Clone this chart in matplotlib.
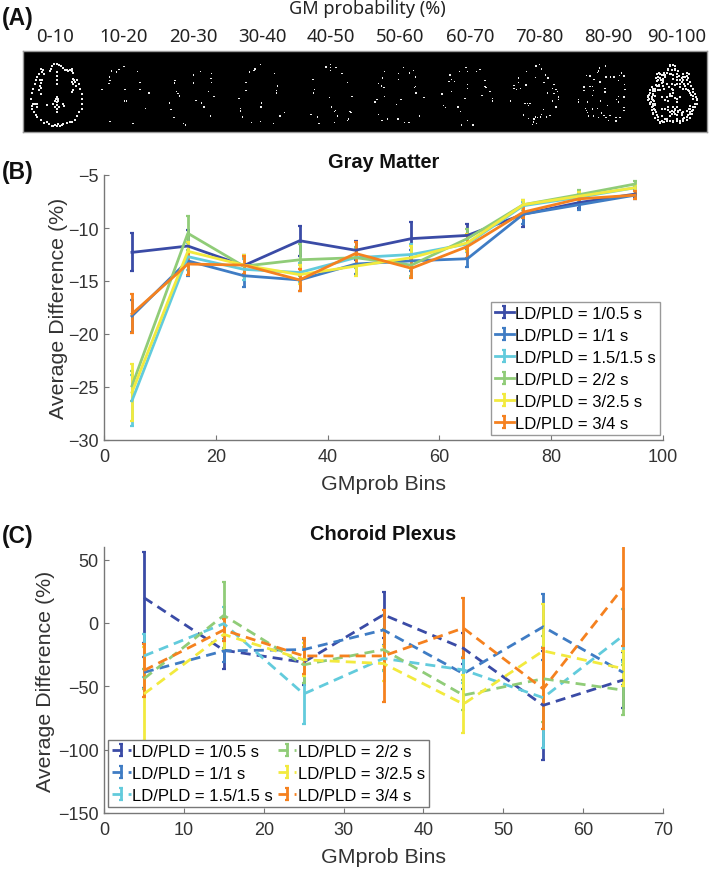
import numpy as np
import matplotlib
matplotlib.use("Agg")
import matplotlib.pyplot as plt
from matplotlib.container import ErrorbarContainer
from matplotlib.legend_handler import HandlerErrorbar

W, H = 709, 870
plt.rcParams['font.family'] = ['Liberation Sans', 'DejaVu Sans']
plt.rcParams['lines.dashed_pattern'] = [3.6, 2.2]

labels = ["LD/PLD = 1/0.5 s", "LD/PLD = 1/1 s", "LD/PLD = 1.5/1.5 s",
          "LD/PLD = 2/2 s", "LD/PLD = 3/2.5 s", "LD/PLD = 3/4 s"]
colors = ["#3A4BA6", "#3F7CC4", "#62CBDC", "#90CC78", "#F2EA3E", "#F5811F"]

gm_x = [5, 15, 25, 35, 45, 55, 65, 75, 85, 95]
gm_1 = [-12.3, -11.7, -13.55, -11.2, -12.1, -11.0, -10.7, -8.7, -7.6, -6.8]
gm_2 = [-18.3, -13.1, -14.5, -14.9, -13.4, -13.1, -12.9, -8.7, -7.8, -6.9]
gm_3 = [-26.3, -12.7, -13.9, -14.2, -12.8, -12.5, -11.5, -7.9, -7.1, -6.2]
gm_4 = [-24.9, -10.5, -13.6, -13.0, -12.8, -13.5, -11.0, -7.8, -6.85, -5.85]
gm_5 = [-25.5, -12.2, -13.5, -14.4, -13.6, -12.8, -11.4, -7.8, -7.0, -6.2]
gm_6 = [-18.1, -13.4, -13.5, -14.9, -12.4, -13.8, -11.75, -8.5, -7.25, -6.9]
gm_e1 = [1.8, 1.5, 1.0, 1.4, 0.9, 1.6, 1.05, 1.2, 0.5, 0.4]
gm_e2 = [1.5, 1.4, 1.05, 1.0, 0.95, 1.0, 0.8, 0.9, 0.5, 0.4]
gm_e3 = [2.4, 1.3, 1.0, 0.9, 0.9, 1.0, 0.8, 0.4, 0.4, 0.3]
gm_e4 = [1.4, 1.6, 0.9, 1.5, 1.0, 1.0, 0.9, 0.4, 0.4, 0.3]
gm_e5 = [2.7, 0.9, 1.0, 0.9, 0.95, 1.1, 0.8, 0.4, 0.4, 0.3]
gm_e6 = [1.85, 1.0, 0.85, 1.0, 1.1, 0.9, 1.1, 0.55, 0.4, 0.4]

cp_x = [5, 15, 25, 35, 45, 55, 65]
cp_1 = [20, -21.5, -31, 6.5, -20, -65, -45]
cp_2 = [-39, -22, -21, -5.5, -40, -3, -39]
cp_3 = [-26, -0.5, -56, -28, -37, -59, -10]
cp_4 = [-44, 6, -33, -21, -57, -44, -53]
cp_5 = [-56, -9, -29, -32, -64, -22, -36]
cp_6 = [-37.5, -5.5, -26, -26, -4, -52, 28]
cp_e1 = [36, 15, 18, 18, 12, 43, 22]
cp_e2 = [12, 9, 8, 12, 12, 26, 10]
cp_e3 = [17, 13, 24, 10, 10, 40, 21]
cp_e4 = [8, 26, 14, 16, 12, 34, 20]
cp_e5 = [37, 12, 13, 14, 23, 37, 14]
cp_e6 = [21, 9, 14, 36, 24, 32, 46]

bin_labels = ["0-10", "10-20", "20-30", "30-40", "40-50", "50-60", "60-70", "70-80", "80-90", "90-100"]
bin_label_x = [55, 124, 193, 262, 331, 400, 470, 539, 608, 677]

# bright voxels in the probability maps (crop px)
vox_a = [(110,50),(103,52),(97,58),(93,65),(90,72),(118,54),(124,58),(130,63),(135,70),(62,66),(68,68),(65,75),(72,80),(58,82),(150,68),(155,72),(145,72),(157,65),(140,70),(160,78),(52,90),(48,100),(44,112),(40,125),(37,138),(34,155),(172,100),(176,112),(181,125),(185,140),(187,155),(187,172),(186,185),(110,75),(110,88),(110,100),(110,112),(60,100),(65,100),(62,108),(60,118),(57,128),(63,122),(63,142),(158,95),(162,100),(165,105),(155,105),(158,112),(168,118),(160,128),(155,135),(110,150),(107,157),(113,157),(105,162),(110,165),(115,162),(110,175),(110,185),(110,195),(106,180),(116,180),(100,172),(128,172),(133,176),(82,175),(38,172),(35,178),(45,170),(52,172),(37,185),(42,195),(48,205),(178,195),(172,208),(165,218),(155,225),(62,220),(72,228),(80,225),(88,230),(95,236),(100,236),(105,235),(110,238),(115,232),(120,236),(125,234),(130,230),(140,228),(150,226),(50,180),(50,210),
 (312,58),(297,67),(290,75),(275,72),(352,73),(268,90),(270,100),(267,110),(360,107),(246,128),(315,128),(360,128),(387,138),(314,162),(319,162),(377,185),(270,224),(339,230),
 (465,100),(463,108),(470,133),(474,140),(478,147),(449,168),(453,188),(462,212),(490,230),(497,234),(521,84),(521,108),(541,73),(575,80),(573,95),(575,107),(565,133),(582,148),(528,160),(545,168),(552,180),(572,207),
 (688,75),(678,107),(678,130),(657,155),(661,185),(661,192),(668,210)]
vox_b = [(32,52),(15,66),(12,70),(73,80),(83,117),(80,130),(80,138),(34,168),(33,180),(104,196),(90,207),(5,227),(32,224),(70,230),
 (241,52),(242,62),(242,70),(228,60),(258,62),(276,80),(189,98),(293,107),(194,128),(190,138),(238,152),(306,148),(245,180),(257,190),(254,193),(300,193),(303,197),(183,203),(262,207),(203,210),(296,216),(293,220),(207,230),(254,227),
 (403,73),(398,93),(385,110),(395,117),(402,122),(403,148),(381,158),(375,165),(385,203),(396,220),(412,216),(461,62),(446,80),(478,76),(478,80),(491,70),(497,90),(446,97),(497,118),(494,122),(498,138),(522,152),(453,158),(440,172),(508,207),(444,216),(464,227),(477,227),
 (648,62),(628,73),(652,73),(680,73),(600,84),(604,97),(597,104),(614,104),(652,113),(652,124),(604,134),(576,141),(645,155),(580,175),(587,182),(624,180),(632,193),(652,221),(635,234),(669,234)]
vox_c = [(0,68),(15,100),(15,118),(18,122),(30,134),(6,145),(37,155),(37,162),(92,162),
 (168,57),(178,53),(185,66),(140,73),(115,93),(167,92),(197,84),(204,93),(115,107),(102,115),(102,125),(110,127),(122,125),(138,114),(192,107),(222,112),(218,125),(228,128),(233,133),(203,138),(222,140),(236,150),(236,157),(218,162),(228,180),(135,170),(142,170),(146,176),(150,170),(191,188),(130,204),(146,214),(162,216),(167,210),(172,212),(182,210),(185,202),(200,210),(210,206),(160,225),(158,233),(170,230),
 (377,57),(358,63),(355,72),(352,76),(320,86),(330,87),(378,90),(392,90),(402,90),(418,85),(425,78),(432,87),(342,98),(360,105),(415,100),(312,120),(330,118),(338,118),(340,130),(375,125),(375,135),(433,112),(435,128),(312,130),(338,145),(432,150),(415,148),(410,158),(296,158),(296,165),(322,165),(362,162),(415,165),(382,175),(316,184),(320,190),(338,186),(352,184),(432,182),(432,190),(365,198),(322,197),(325,207),(340,207),(355,212),(372,205),(378,212),(390,205),(408,212),(420,212),(408,222),(385,220),
 (570,55),(578,53),(586,56),(565,66),(575,70),(585,68),(595,72),(562,78),(572,80),(590,82),(555,85),(530,82),(538,78),(545,85),(552,78),(528,92),(540,92),(548,95),(535,100),(550,100),(545,108),(538,115),(530,118),(548,118),(520,125),(510,130),(525,132),(540,128),(508,145),(518,140),(503,150),(515,150),(525,148),(610,82),(620,78),(628,80),(605,92),(615,90),(625,92),(600,100),(610,100),(620,100),(590,100),(578,95),(600,110),(612,112),(625,110),(632,118),(640,125),(618,125),(610,125),(628,132),(638,135),(645,142),(632,145),(648,150),(640,155),(650,160),(575,110),(585,115),(568,120),(580,128),(570,140),(562,150),(575,148),(585,152),(555,160),(565,162),(590,165),(505,160),(512,165),(520,160),(510,172),(518,178),(525,172),(515,188),(525,190),(520,200),(530,205),(525,212),(535,218),(540,225),(550,225),(555,215),(545,208),(560,222),(570,222),(580,225),(590,222),(600,228),(610,222),(620,218),(630,212),(635,200),(640,190),(645,180),(630,185),(650,170),(555,185),(565,188),(578,180),(585,190),(595,195),(575,200),(590,205),(600,190),(610,195),(605,205),(612,212),(582,195),(570,195),(630,195),(625,205),(590,180)]
vox_d = [(90,35),(100,33),(85,48),(95,48),(105,45),(90,60),(100,62),(110,70),(60,60),(68,62),(75,70),(55,68),(50,80),(62,78),(70,85),(48,92),(58,95),(45,105),(55,108),(35,100),(40,110),(30,118),(38,122),(25,125),(28,135),(35,135),(42,140),(30,148),(38,150),(45,152),(35,160),(42,165),(48,175),(40,178),(55,190),(65,200),(72,205),(60,208),(80,195),(90,200),(100,200),(110,195),(120,200),(130,195),(140,190),(150,180),(155,170),(160,158),(150,155),(165,150),(170,135),(160,125),(150,118),(145,108),(135,95),(125,85),(130,70),(140,65),(148,60),(118,65),(150,85),(160,105),(165,120),(95,105),(100,118),(90,125),(85,140),(110,135),(120,130),(75,165),(85,160),(95,172),(105,165),(115,170),(125,178),(105,180),(90,185),(65,165),(140,170),(148,165),(72,105),(82,90),(110,90),(120,100),(65,130)]

fig = plt.figure(figsize=(W / 100, H / 100), dpi=100, facecolor="white")

def px_axes(x0, y_top, x1, y_bot):
    return fig.add_axes([x0 / W, 1 - y_bot / H, (x1 - x0) / W, (y_bot - y_top) / H])

# Panel A
a = px_axes(23, 52, 707, 133)
a.set_facecolor("black")
a.set_xlim(23, 707)
a.set_ylim(133, 52)
a.set_xticks([])
a.set_yticks([])
for s in a.spines.values():
    s.set_color("#999999")
    s.set_linewidth(1)
for pts, ox, oy, k in ((vox_a, 20, 48, 3), (vox_b, 250, 48, 3), (vox_c, 480, 48, 3), (vox_d, 640, 55, 3)):
    v = np.array(pts, dtype=float)
    gx, gy = v[:, 0] / k + ox, v[:, 1] / k + oy
    sizes = np.where(gx < 100, 2.4, np.where(gx > 640, 1.9, 1.1))
    a.scatter(gx, gy, s=sizes, c="#EDEDED", marker="s", linewidths=0)

txt_font = ['Noto Sans', 'DejaVu Sans']
for lab, xp in zip(bin_labels, bin_label_x):
    fig.text(xp / W, 1 - 37 / H, lab, ha="center", va="center", fontsize=13.4,
             family=txt_font, color="#222222")
fig.text(367 / W, 1 - 9 / H, "GM probability (%)", ha="center", va="center", fontsize=13,
         family=txt_font, color="#222222")

for lab, yp in (("(A)", 19), ("(B)", 172), ("(C)", 536)):
    fig.text(2 / W, 1 - yp / H, lab, ha="left", va="center", fontsize=16.5, fontweight="bold", color="#111111")

def style(ax):
    ax.spines["top"].set_visible(False)
    ax.spines["right"].set_visible(False)
    for k in ("left", "bottom"):
        ax.spines[k].set_color("#777777")
        ax.spines[k].set_linewidth(1)
    ax.tick_params(direction="in", length=3.6, width=0.8, color="#777777",
                   labelsize=13, labelcolor="#333333")
    ax.tick_params(axis="x", pad=6)
    ax.tick_params(axis="y", pad=4)

def draw(ax, x, series, errs, ls):
    for y, e, c, lab in zip(series, errs, colors, labels):
        h = ax.errorbar(x, y, yerr=e, color=c, lw=2.0, ls=ls, elinewidth=2.0,
                        capsize=1.3, capthick=1.6, label=lab)
        for col in h[2]:
            col.set_linestyle("-")

def add_legend(ax, anchor, ncol, edge):
    hm = {ErrorbarContainer: HandlerErrorbar(yerr_size=0.35)}
    leg = ax.legend(loc="lower left", bbox_to_anchor=anchor, borderaxespad=0, ncol=ncol,
                    fontsize=12, frameon=True, fancybox=False, framealpha=1, edgecolor=edge,
                    labelspacing=0.42, handlelength=1.1, handletextpad=0.1, borderpad=0.25,
                    columnspacing=0.3, handler_map=hm)
    leg.get_frame().set_linewidth(1)

# Panel B
b = px_axes(104, 176, 663, 441)
draw(b, gm_x, [gm_1, gm_2, gm_3, gm_4, gm_5, gm_6],
     [gm_e1, gm_e2, gm_e3, gm_e4, gm_e5, gm_e6], "-")
b.set_xlim(0, 100)
b.set_ylim(-30, -5)
b.set_xticks(range(0, 101, 20))
b.set_yticks(range(-30, -4, 5))
style(b)
b.set_xlabel("GMprob Bins", fontsize=15.4, color="#333333", labelpad=6.5)
b.set_ylabel("Average Difference (%)", fontsize=15.4, color="#333333", labelpad=0)
b.set_title("Gray Matter", fontsize=14.4, fontweight="bold", color="#111111", pad=5.5)
add_legend(b, ((491 - 104) / 559, (441 - 436) / 265), 1, "#999999")

# Panel C
c = px_axes(104, 548, 663, 814)
draw(c, cp_x, [cp_1, cp_2, cp_3, cp_4, cp_5, cp_6],
     [cp_e1, cp_e2, cp_e3, cp_e4, cp_e5, cp_e6], "--")
c.set_xlim(0, 70)
c.set_ylim(-150, 60)
c.set_xticks(range(0, 71, 10))
c.set_yticks(range(-150, 51, 50))
style(c)
c.set_xlabel("GMprob Bins", fontsize=15.4, color="#333333", labelpad=6.5)
c.set_ylabel("Average Difference (%)", fontsize=15.4, color="#333333", labelpad=2)
c.set_title("Choroid Plexus", fontsize=14.4, fontweight="bold", color="#111111", pad=6)
add_legend(c, (4 / 559, 6 / 266), 2, "#777777")

fig.savefig("out.png", dpi=100, facecolor="white")
